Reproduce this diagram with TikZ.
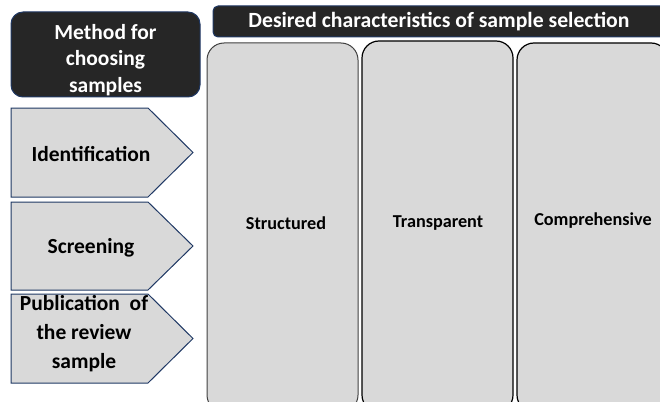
\documentclass[tikz,border=0pt]{standalone}
\usepackage{fontspec}
\setmainfont{Carlito}
\definecolor{darkfill}{HTML}{262626}
\definecolor{navy}{HTML}{1F3864}
\definecolor{lightfill}{HTML}{D9D9D9}
\begin{document}
\begin{tikzpicture}[x=1pt,y=-1pt,
  darkbox/.style={fill=darkfill,draw=navy,line width=1pt},
  arrowbox/.style={fill=lightfill,draw=navy,line width=1pt},
  colbox/.style={fill=lightfill,draw=black,line width=1.2pt,rounded corners=17pt},
  lefttext/.style={font=\fontsize{21.5}{27}\selectfont\bfseries,align=center,text=black},
  whitetext/.style={font=\fontsize{21.5}{26.5}\selectfont\bfseries,align=center,text=white},
  coltext/.style={font=\fontsize{18.2}{21}\selectfont\bfseries,align=center,text=black}]
\useasboundingbox (0,0) rectangle (660,401);
\clip (0,0) rectangle (660,401);
% top-left dark box
\draw[darkbox,rounded corners=12pt] (11,12) rectangle (200,97);
\node[whitetext] (method) at (105.5,60) {Method for\\choosing\\samples};
% header
\draw[darkbox,rounded corners=5pt] (213,6) rectangle (680,37);
\node[whitetext,font=\fontsize{21.7}{24}\selectfont\bfseries] (header) at (439,21.5) {Desired characteristics of sample selection};
% columns
\draw[colbox,draw=black!75,line width=1pt] (207,43) rectangle (358,412);
\draw[colbox] (362,41) rectangle (513,412);
\draw[colbox] (517,43) rectangle (668,412);
\node[coltext] (structured) at (286,223) {Structured};
\node[coltext] (transparent) at (438,223) {Transparent};
\node[coltext] (comprehensive) at (593,221) {Comprehensive};
% pentagons
\draw[arrowbox] (11,108) -- (148,108) -- (193,152.5) -- (148,197) -- (11,197) -- cycle;
\draw[arrowbox] (11,202) -- (148,202) -- (193,246) -- (148,290) -- (11,290) -- cycle;
\draw[arrowbox] (11,294) -- (148,294) -- (193,338.5) -- (148,383) -- (11,383) -- cycle;
\node[lefttext] (ident) at (91,154) {Identification};
\node[lefttext] (screen) at (91,248) {Screening};
\node[lefttext,font=\fontsize{21.5}{29}\selectfont\bfseries] (pub) at (84,334) {Publication~~of\\the review\\sample};
\end{tikzpicture}
\end{document}
